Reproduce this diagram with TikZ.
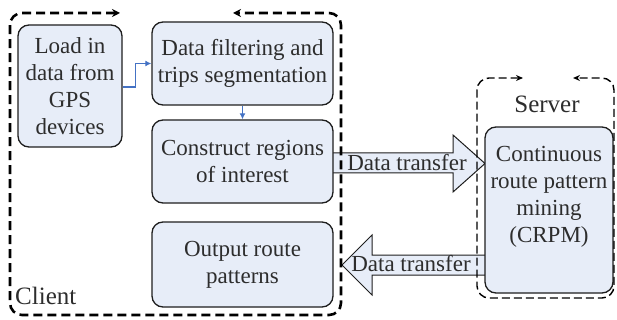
\documentclass[tikz,border=0pt]{standalone}
\usepackage{fontspec}
\setmainfont{Liberation Serif}
\usetikzlibrary{arrows.meta}
\definecolor{boxfill}{RGB}{231,237,248}
\definecolor{boxline}{RGB}{30,30,30}
\definecolor{txt}{RGB}{45,45,45}
\definecolor{conn}{RGB}{68,114,196}
\tikzset{
  procbox/.style={draw=boxline, line width=1.3pt, fill=boxfill, rounded corners=11pt,
    align=center, inner sep=0pt, text=txt, font=\fontsize{23}{27}\selectfont},
  blockarrow/.style={draw=boxline, line width=1pt, fill=boxfill},
  arrowtext/.style={text=txt, font=\fontsize{23}{27}\selectfont, inner sep=0pt},
  clientbox/.style={draw=black, line width=2.6pt, dash pattern=on 9pt off 5pt, rounded corners=12pt,
    {Stealth[length=8pt,width=8pt]}-{Stealth[length=8pt,width=8pt]}},
  serverbox/.style={draw=black, line width=1.4pt, dash pattern=on 8pt off 4pt, rounded corners=12pt,
    {Stealth[length=7pt,width=6pt]}-{Stealth[length=7pt,width=6pt]}},
  connector/.style={draw=conn, line width=1.4pt, -{Latex[length=6pt,width=6pt]}},
  lbl/.style={text=txt, font=\fontsize{25}{27}\selectfont, inner sep=0pt}
}
\begin{document}
\begin{tikzpicture}[x=1pt,y=-1pt]
\useasboundingbox (0,0) rectangle (617,320);
% block arrows
\draw[blockarrow] (330,153) -- (453,153) -- (453,135) -- (485,163.5) -- (453,192) -- (453,173) -- (330,173) ;
\draw[blockarrow] (488,255) -- (372,255) -- (372,235) -- (342,265) -- (372,295) -- (372,275) -- (488,275) ;
% boxes
\node[procbox, minimum width=104pt, minimum height=122pt] (load) at (70,86) {Load in\\data from\\GPS\\devices};
\node[procbox, minimum width=181pt, minimum height=83pt] (filt) at (242.5,63.5) {Data filtering and\\trips segmentation};
\node[procbox, minimum width=181pt, minimum height=83pt] (cons) at (242.5,161.5) {Construct regions\\of interest};
\node[procbox, minimum width=181pt, minimum height=85pt] (outp) at (242.5,264.5) {Output route\\patterns};
\node[procbox, minimum width=128pt, minimum height=166pt] (crpm) at (549,210) {Continuous\\route pattern\\mining\\(CRPM)\\[4pt]};
% connectors
\draw[connector] (load.east) ++(0,1) coordinate (ls) -- ++(13,0) |- (filt.west);
\draw[connector] (filt.south) -- (cons.north);
% arrow labels
\node[arrowtext] (dt1) at (407,163) {Data transfer};
\node[arrowtext] (dt2) at (411,264) {Data transfer};
% containers
\draw[clientbox] (120,13) -- (10,13) -- (10,315) -- (341,315) -- (341,13) -- (233,13);
\draw[serverbox] (523,78) -- (477,78) -- (477,298) -- (614,298) -- (614,78) -- (573,78);
\node[lbl, anchor=west] (client) at (15,296) {Client};
\node[lbl] (server) at (547,104) {Server};
\end{tikzpicture}
\end{document}
